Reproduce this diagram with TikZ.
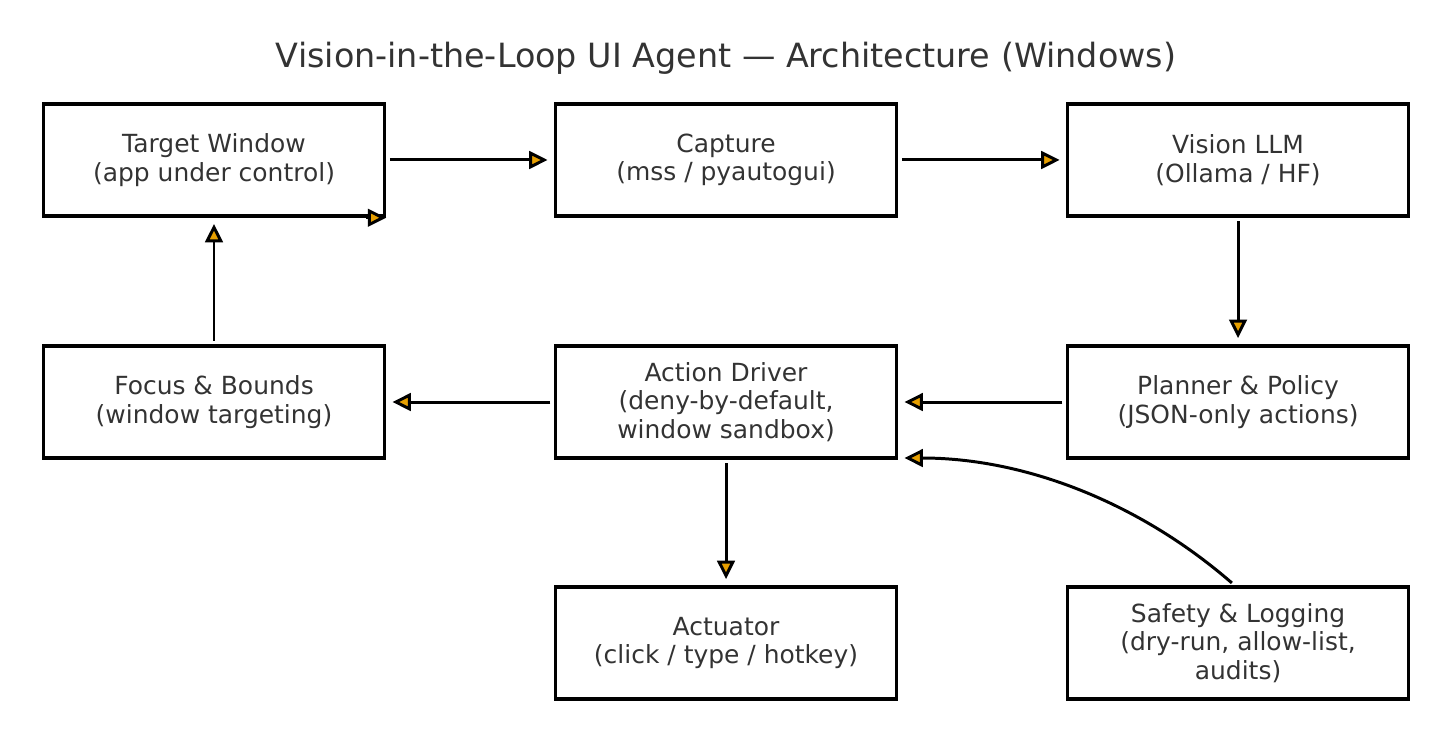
\documentclass[tikz,border=0pt]{standalone}
\usepackage{fontspec}
\setmainfont{DejaVu Sans}
\usetikzlibrary{arrows.meta,positioning}
\definecolor{inkText}{RGB}{51, 51, 51}
\definecolor{inkTip}{RGB}{230, 159, 0}

\begin{document}
\begin{tikzpicture}[
    stage/.style={draw=black, line width=2pt, minimum width=6.82cm, minimum height=2.24cm,
        inner sep=0pt, align=center, text=inkText, font=\fontsize{14.2pt}{16.2pt}\selectfont},
    flow/.style={line width=1.7pt, -{Triangle[length=10.5pt, width=10pt, fill=inkTip]},
        shorten <=2pt, shorten >=3.5pt},
    node distance=2.53cm and 3.35cm
]
\useasboundingbox (0,0) rectangle (29.04,14.9);
\node[text=inkText, font=\fontsize{19pt}{22pt}\selectfont] (title) at (14.52,13.74) {Vision-in-the-Loop UI Agent — Architecture (Windows)};

\node[stage] (target) at (4.28,11.7) {Target Window\\(app under control)};
\node[stage, right=of target] (capture) {Capture\\(mss / pyautogui)};
\node[stage, right=of capture] (vision) {Vision LLM\\(Ollama / HF)};
\node[stage, below=of vision] (planner) {Planner \& Policy\\(JSON-only actions)};
\node[stage, below=of capture] (driver) {Action Driver\\(deny-by-default,\\window sandbox)};
\node[stage, below=of target] (focus) {Focus \& Bounds\\(window targeting)};
\node[stage, below=2.51cm of driver] (actuator) {Actuator\\(click / type / hotkey)};
\node[stage, below=2.51cm of planner] (safety) {Safety \& Logging\\(dry-run, allow-list,\\audits)};

\draw[flow] (target) -- (capture);
\draw[flow] (capture) -- (vision);
\draw[flow] (vision) -- (planner);
\draw[flow] (planner) -- (driver);
\draw[flow] (driver) -- (focus);
\draw[flow] (focus) -- (target);
\draw[flow] (driver) -- (actuator);
\draw[flow] ([xshift=-2pt]safety.north) to[out=139, in=0, looseness=0.9] ([yshift=1pt]driver.south east);
\draw[flow, shorten <=0pt, shorten >=0pt] ([xshift=-0.4cm]target.south east) -- (target.south east);
\end{tikzpicture}
\end{document}
